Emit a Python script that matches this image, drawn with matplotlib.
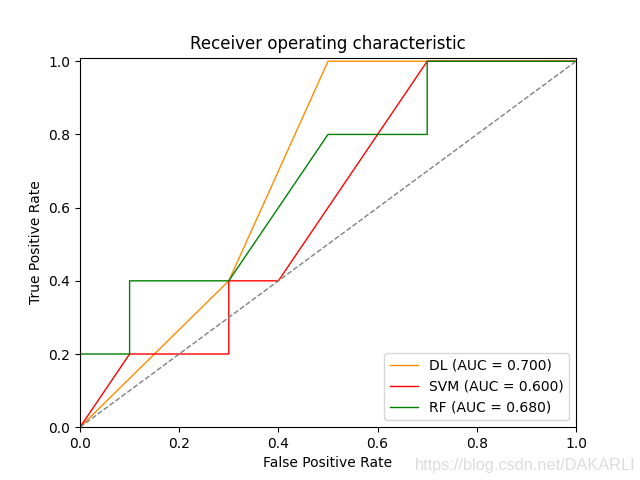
import numpy as np
import matplotlib.pyplot as plt

# ROC points
fpr_dl = [0.0, 0.3, 0.5, 1.0]
tpr_dl = [0.0, 0.4, 1.0, 1.0]

fpr_svm = [0.0, 0.1, 0.3, 0.3, 0.4, 0.7, 1.0]
tpr_svm = [0.0, 0.2, 0.2, 0.4, 0.4, 1.0, 1.0]

fpr_rf = [0.0, 0.0, 0.1, 0.1, 0.3, 0.5, 0.7, 0.7, 1.0]
tpr_rf = [0.0, 0.2, 0.2, 0.4, 0.4, 0.8, 0.8, 1.0, 1.0]

auc_dl = np.trapezoid(tpr_dl, fpr_dl)
auc_svm = np.trapezoid(tpr_svm, fpr_svm)
auc_rf = np.trapezoid(tpr_rf, fpr_rf)

fig = plt.figure(figsize=(6.4, 4.8), dpi=100)
plt.plot(fpr_dl, tpr_dl, color='darkorange', lw=1, label='DL (AUC = %0.3f)' % auc_dl)
plt.plot(fpr_svm, tpr_svm, color='red', lw=1, label='SVM (AUC = %0.3f)' % auc_svm)
plt.plot(fpr_rf, tpr_rf, color='green', lw=1, label='RF (AUC = %0.3f)' % auc_rf)
plt.plot([0, 1], [0, 1], color='gray', lw=1, linestyle='--')
plt.xlim([0.0, 1.0])
plt.ylim([0.0, 1.01])
plt.xlabel('False Positive Rate')
plt.ylabel('True Positive Rate')
plt.title('Receiver operating characteristic')
plt.legend(loc='lower right')

# watermark
fig.text(0.993, 0.015, 'https://blog.csdn.net/DAKARLI', ha='right', va='bottom',
         color='#dcdcdc', fontsize=11.8, family='Liberation Sans')

plt.savefig('out.png', dpi=100)
